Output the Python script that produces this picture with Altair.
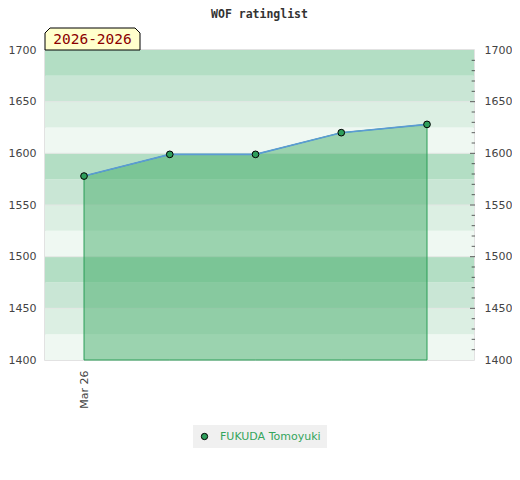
import altair as alt
import pandas as pd

# ---- data ----
game_index = [0, 1, 2, 3, 4]
ratings = [1578, 1599, 1599, 1620, 1628]
player = ["FUKUDA Tomoyuki"] * 5
x_tick_values = [0]
x_tick_labels = ["Mar 26"]
period_label = "2026-2026"
y_labels = [1400, 1450, 1500, 1550, 1600, 1650, 1700]
band_lo = [1400, 1425, 1450, 1475, 1500, 1525, 1550, 1575, 1600, 1625, 1650, 1675]
band_hi = [1425, 1450, 1475, 1500, 1525, 1550, 1575, 1600, 1625, 1650, 1675, 1700]
band_shade = [3, 2, 1, 0, 3, 2, 1, 0, 3, 2, 1, 0]
grid_values = [1450, 1500, 1550, 1600, 1650]
minor_ticks = [1410, 1420, 1430, 1440, 1460, 1470, 1480, 1490, 1510, 1520, 1530, 1540,
               1560, 1570, 1580, 1590, 1610, 1620, 1630, 1640, 1660, 1670, 1680, 1690]
major_ticks = [1450, 1500, 1550, 1600, 1650]

W, H = 429, 310
YDOM = [1400, 1700]
XDOM = [-0.455, 4.548]

df = pd.DataFrame({"idx": game_index, "rating": ratings, "player": player})
bands = pd.DataFrame({"lo": band_lo, "hi": band_hi, "shade": band_shade})
grid = pd.DataFrame({"v": grid_values})
minor = pd.DataFrame({"v": minor_ticks})
major = pd.DataFrame({"v": major_ticks})
one = pd.DataFrame({"t": [period_label]})

yscale = alt.Scale(domain=YDOM, nice=False, zero=False)
xscale = alt.Scale(domain=XDOM, nice=False, zero=False)

label_expr = "{" + ",".join(f"'{v}':'{l}'" for v, l in zip(x_tick_values, x_tick_labels)) + "}[datum.value]"

y_left = alt.Axis(values=y_labels, orient="left", ticks=False, domain=False, format="d",
                  grid=False, title=None, labelFontSize=11, labelColor="#444",
                  labelFont="DejaVu Sans", labelPadding=9)
y_right = alt.Axis(values=y_labels, orient="right", ticks=False, domain=False, format="d",
                   grid=False, title=None, labelFontSize=11, labelColor="#444",
                   labelFont="DejaVu Sans", labelPadding=10)
x_axis = alt.Axis(values=x_tick_values, labelExpr=label_expr, labelAngle=270,
                  ticks=False, domain=False, grid=False, title=None,
                  labelFontSize=11, labelColor="#444", labelFont="DejaVu Sans",
                  labelPadding=10)

band_layer = alt.Chart(bands).mark_rect().encode(
    x=alt.value(0), x2=alt.value(W),
    y=alt.Y("lo:Q", scale=yscale, axis=y_left),
    y2="hi:Q",
    color=alt.Color("shade:O", legend=None,
                    scale=alt.Scale(domain=[0, 1, 2, 3],
                                    range=["#b3dec4", "#c9e6d5", "#dcefe3", "#eff8f2"])),
)

grid_layer = alt.Chart(grid).mark_rule(color="#e2e6e3", strokeWidth=1).encode(
    x=alt.value(0), x2=alt.value(W),
    y=alt.Y("v:Q", scale=yscale, axis=y_left),
)

area_layer = alt.Chart(df).mark_area(
    color="#39a860", fillOpacity=0.46, stroke="#2a9d57", strokeWidth=1, strokeOpacity=1
).encode(
    x=alt.X("idx:Q", scale=xscale, axis=x_axis),
    y=alt.Y("rating:Q", scale=yscale, axis=y_left),
    y2=alt.datum(1400),
)

line_layer = alt.Chart(df).mark_line(color="#5b9bd5", strokeWidth=1.6).encode(
    x=alt.X("idx:Q", scale=xscale, axis=x_axis),
    y=alt.Y("rating:Q", scale=yscale, axis=y_left),
)

point_layer = alt.Chart(df).mark_circle(size=45, stroke="black", strokeWidth=1, opacity=1).encode(
    x=alt.X("idx:Q", scale=xscale, axis=x_axis),
    y=alt.Y("rating:Q", scale=yscale, axis=y_left),
    fill=alt.Fill("player:N", scale=alt.Scale(range=["#2e9e5b"]),
                  legend=alt.Legend(title=None, orient="none", legendX=148, legendY=375,
                                    fillColor="#f0f0f0", padding=6, labelOffset=10,
                                    labelFontSize=11, labelColor="#34a55c",
                                    labelFont="DejaVu Sans", symbolType="circle",
                                    symbolSize=40, symbolStrokeColor="black",
                                    symbolStrokeWidth=1)),
)

hw, hh = 1.0, 11 / 47.5
c = 5 / 47.5
box_path = (f"M {-hw} {hh} L {-hw} {-hh + c} L {-hw + c} {-hh} L {hw - c} {-hh} "
            f"L {hw} {-hh + c} L {hw} {hh} Z")
box_layer = alt.Chart(one).mark_point(
    shape=box_path, size=95 * 95, filled=True, fill="#ffffcc", stroke="black",
    strokeWidth=1, opacity=1
).encode(x=alt.value(47.5), y=alt.value(-11))

box_text = alt.Chart(one).mark_text(
    font="DejaVu Sans Mono", fontSize=14.5, color="#8b0000", baseline="middle", align="center"
).encode(x=alt.value(47.5), y=alt.value(-10), text="t:N")

main = alt.layer(band_layer, grid_layer, area_layer, line_layer, point_layer,
                 box_layer, box_text).resolve_scale(color="independent", fill="independent")

minor_layer = alt.Chart(minor).mark_tick(size=3.3, thickness=1, color="#222").encode(
    x=alt.value(W - 0.7),
    y=alt.Y("v:Q", scale=yscale, axis=y_right),
)
major_layer = alt.Chart(major).mark_tick(size=5, thickness=1, color="#222").encode(
    x=alt.value(W - 1.5),
    y=alt.Y("v:Q", scale=yscale, axis=y_right),
)
right = alt.layer(minor_layer, major_layer)

chart = alt.layer(main, right).resolve_scale(y="independent").properties(
    width=W, height=H,
    title=alt.TitleParams("WOF ratinglist", font="DejaVu Sans Mono", fontSize=11.5,
                          fontWeight="bold", color="#333", anchor="middle", offset=6),
    padding={"left": 37, "top": 42, "right": 38, "bottom": 112},
    autosize=alt.AutoSizeParams(type="none"),
).configure_view(stroke="#d9d9d9", strokeWidth=1.5)

chart.save("out.html", embed_options={"renderer": "svg", "actions": False})
